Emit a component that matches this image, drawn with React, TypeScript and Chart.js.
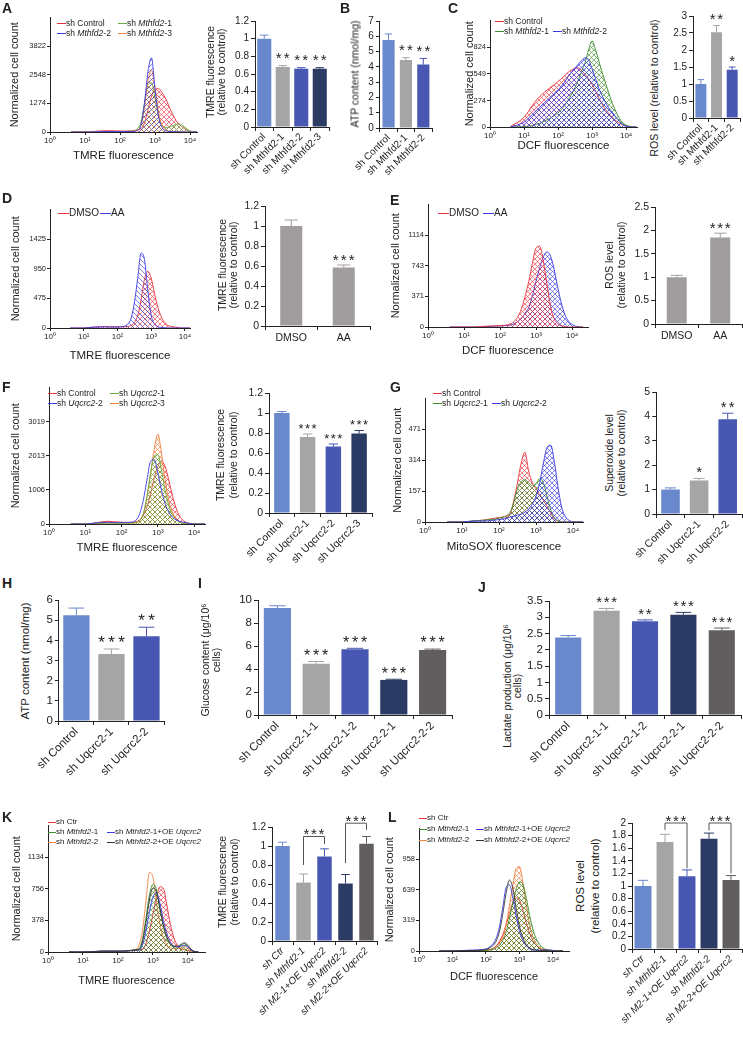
import React, { useEffect, useRef } from "react";
import { Chart, registerables } from "chart.js";

Chart.register(...registerables);

const FONT = '"Liberation Sans", Arial, Helvetica, sans-serif';
const INK = "#222222";

// ---------------- shared histogram grid (log10 of fluorescence) ----------------
const GRID = [0.6, 1.0, 1.3, 1.6, 1.9, 2.1, 2.3, 2.4, 2.5, 2.6, 2.7, 2.8, 2.9, 3.0, 3.1, 3.2, 3.3, 3.4, 3.5, 3.6, 3.7, 3.8, 3.9, 4.0, 4.1, 4.2, 4.3];
const DECADES = [0, 1, 2, 3, 4];
const DECADE_LABELS = ["10⁰", "10¹", "10²", "10³", "10⁴"];

// ---------------- Panel A ----------------
const A_HIST_YTICKS = [0, 1274, 2548, 3822];
const A_CTRL = [0, 0, 30, 60, 50, 40, 50, 60, 90, 150, 400, 1000, 1600, 1900, 1930, 1750, 1500, 1150, 800, 520, 330, 200, 90, 20, 0, 0, 0];
const A_M1 = [0, 0, 10, 20, 20, 20, 30, 50, 150, 450, 1300, 2100, 2200, 1500, 700, 300, 200, 220, 280, 330, 350, 280, 150, 50, 10, 0, 0];
const A_M2 = [0, 0, 10, 20, 20, 20, 20, 30, 80, 300, 1300, 2700, 3300, 1900, 700, 200, 60, 20, 10, 10, 5, 0, 0, 0, 0, 0, 0];
const A_M3 = [0, 0, 10, 20, 20, 20, 30, 40, 80, 300, 1100, 2300, 2750, 2000, 900, 300, 100, 40, 20, 10, 5, 0, 0, 0, 0, 0, 0];
const A_LABELS = ["sh Control", "sh Mthfd2-1", "sh Mthfd2-2", "sh Mthfd2-3"];
const A_TMRE = [1.0, 0.68, 0.66, 0.66];
const A_TMRE_ERR = [0.04, 0.015, 0.012, 0.012];
const A_STARS = ["", "**", "**", "**"];

// ---------------- Panel B ----------------
const B_LABELS = ["sh Control", "sh Mthfd2-1", "sh Mthfd2-2"];
const B_ATP = [5.75, 4.45, 4.15];
const B_ATP_ERR = [0.4, 0.15, 0.4];
const B_STARS = ["", "**", "**"];

// ---------------- Panel C ----------------
const C_HIST_YTICKS = [0, 274, 549, 824];
const C_CTRL = [5, 100, 250, 360, 440, 500, 565, 590, 605, 610, 580, 540, 495, 440, 370, 300, 235, 180, 135, 95, 65, 40, 22, 10, 4, 0, 0];
const C_M1 = [0, 5, 20, 60, 120, 180, 280, 340, 410, 490, 580, 670, 800, 890, 800, 680, 560, 450, 340, 240, 160, 90, 45, 20, 8, 0, 0];
const C_M2 = [0, 50, 150, 250, 350, 420, 520, 570, 610, 650, 690, 715, 690, 600, 500, 400, 320, 250, 190, 150, 100, 60, 25, 10, 0, 0, 0];
const C_LABELS = ["sh Control", "sh Mthfd2-1", "sh Mthfd2-2"];
const C_ROS = [1.0, 2.52, 1.42];
const C_ROS_ERR = [0.13, 0.2, 0.08];
const C_STARS = ["", "**", "*"];

// ---------------- Panel D ----------------
const D_HIST_YTICKS = [0, 475, 950, 1425];
const D_DMSO = [0, 0, 15, 20, 20, 20, 25, 40, 90, 200, 450, 780, 910, 800, 550, 330, 180, 90, 40, 25, 15, 10, 0, 0, 0, 0, 0];
const D_AA = [0, 0, 15, 20, 15, 20, 60, 150, 400, 800, 1200, 1100, 600, 200, 60, 20, 10, 5, 0, 0, 0, 0, 0, 0, 0, 0, 0];
const DE_LABELS = ["DMSO", "AA"];
const D_TMRE = [1.0, 0.585];
const D_TMRE_ERR = [0.06, 0.025];
const D_STARS = ["", "***"];

// ---------------- Panel E ----------------
const E_HIST_YTICKS = [0, 371, 743, 1114];
const E_DMSO = [0, 0, 0, 10, 15, 20, 40, 70, 130, 230, 380, 560, 780, 960, 980, 800, 520, 250, 100, 40, 15, 5, 0, 0, 0, 0, 0];
const E_AA = [0, 0, 0, 5, 10, 15, 25, 40, 70, 110, 170, 240, 380, 560, 720, 850, 910, 860, 700, 480, 290, 150, 70, 30, 10, 3, 0];
const E_ROS = [1.0, 1.85];
const E_ROS_ERR = [0.04, 0.09];
const E_STARS = ["", "***"];

// ---------------- Panel F ----------------
const F_HIST_YTICKS = [0, 1006, 2013, 3019];
const F_CTRL = [0, 0, 40, 80, 60, 50, 50, 70, 120, 250, 500, 900, 1350, 1700, 1850, 1700, 1300, 850, 480, 230, 100, 40, 15, 0, 0, 0, 0];
const F_U1 = [0, 0, 20, 30, 30, 30, 30, 40, 100, 300, 800, 1500, 2000, 2050, 1600, 1000, 550, 280, 130, 50, 20, 10, 0, 0, 0, 0, 0];
const F_U2 = [0, 0, 30, 50, 40, 40, 60, 120, 300, 700, 1300, 1850, 1900, 1500, 1000, 600, 350, 200, 120, 80, 50, 30, 15, 0, 0, 0, 0];
const F_U3 = [0, 0, 20, 30, 30, 30, 30, 40, 100, 300, 800, 1500, 2200, 2650, 2100, 1300, 700, 350, 150, 60, 20, 0, 0, 0, 0, 0, 0];
const F_LABELS = ["sh Control", "sh Uqcrc2-1", "sh Uqcrc2-2", "sh Uqcrc2-3"];
const F_TMRE = [1.0, 0.76, 0.665, 0.795];
const F_TMRE_ERR = [0.015, 0.03, 0.025, 0.03];
const F_STARS = ["", "***", "***", "***"];

// ---------------- Panel G ----------------
const G_HIST_YTICKS = [0, 157, 314, 471];
const G_CTRL = [0, 0, 5, 10, 20, 25, 40, 110, 200, 300, 355, 260, 200, 170, 140, 110, 80, 45, 15, 5, 0, 0, 0, 0, 0, 0, 0];
const G_U1 = [0, 0, 5, 10, 15, 25, 50, 100, 170, 205, 215, 200, 185, 195, 220, 200, 130, 60, 20, 5, 0, 0, 0, 0, 0, 0, 0];
const G_U2 = [0, 0, 5, 5, 10, 15, 25, 30, 35, 40, 50, 65, 90, 130, 200, 300, 380, 390, 300, 170, 70, 25, 8, 0, 0, 0, 0];
const GH_LABELS = ["sh Control", "sh Uqcrc2-1", "sh Uqcrc2-2"];
const G_SUPEROXIDE = [1.0, 1.37, 3.88];
const G_SUPEROXIDE_ERR = [0.07, 0.09, 0.25];
const G_STARS = ["", "*", "**"];

// ---------------- Panels H, I, J ----------------
const H_ATP = [5.25, 3.32, 4.2];
const H_ATP_ERR = [0.35, 0.25, 0.45];
const H_STARS = ["", "***", "**"];
const IJ_LABELS = ["sh Control", "sh Uqcrc2-1-1", "sh Uqcrc2-1-2", "sh Uqcrc2-2-1", "sh Uqcrc2-2-2"];
const I_GLUCOSE = [9.3, 4.45, 5.72, 3.05, 5.65];
const I_GLUCOSE_ERR = [0.2, 0.2, 0.08, 0.06, 0.08];
const I_STARS = ["", "***", "***", "***", "***"];
const J_LACTATE = [2.38, 3.2, 2.88, 3.08, 2.6];
const J_LACTATE_ERR = [0.06, 0.07, 0.04, 0.07, 0.07];
const J_STARS = ["", "***", "**", "***", "***"];

// ---------------- Panel K ----------------
const K_HIST_YTICKS = [0, 378, 756, 1134];
const K_CTR = [0, 0, 5, 10, 10, 10, 15, 20, 25, 30, 30, 100, 250, 450, 650, 780, 760, 560, 330, 170, 80, 40, 30, 20, 8, 0, 0];
const K_M1 = [0, 0, 5, 10, 10, 10, 15, 20, 30, 40, 150, 400, 680, 810, 750, 520, 300, 160, 90, 60, 60, 80, 100, 70, 25, 5, 0];
const K_M1OE = [0, 0, 5, 10, 10, 10, 15, 15, 20, 20, 80, 250, 480, 650, 710, 580, 380, 220, 120, 70, 60, 70, 80, 60, 20, 5, 0];
const K_M2 = [0, 0, 5, 10, 10, 10, 15, 20, 30, 80, 250, 600, 950, 900, 600, 330, 170, 90, 50, 40, 40, 50, 60, 40, 15, 3, 0];
const K_M2OE = [0, 0, 5, 10, 10, 10, 15, 20, 25, 30, 120, 350, 620, 760, 720, 520, 320, 180, 100, 70, 70, 90, 110, 80, 30, 5, 0];
const KL_LABELS = ["sh Ctr", "sh Mthfd2-1", "sh M2-1+OE Uqcrc2", "sh Mthfd2-2", "sh M2-2+OE Uqcrc2"];
const K_TMRE = [1.0, 0.615, 0.89, 0.605, 1.025];
const K_TMRE_ERR = [0.04, 0.09, 0.08, 0.095, 0.075];
const K_BRACKETS = [
  { a: 1, b: 2, y: 1.1, ya: 0.8, yb: 1.02, stars: "***" },
  { a: 3, b: 4, y: 1.24, ya: 0.82, yb: 1.17, stars: "***" },
];

// ---------------- Panel L ----------------
const L_HIST_YTICKS = [0, 319, 639, 958];
const L_CTR = [0, 0, 5, 5, 10, 15, 50, 100, 170, 270, 390, 500, 555, 530, 430, 300, 190, 110, 60, 30, 15, 10, 5, 0, 0, 0, 0];
const L_M1 = [0, 0, 5, 5, 5, 10, 30, 60, 110, 200, 340, 500, 640, 720, 700, 560, 380, 230, 130, 70, 35, 15, 10, 5, 0, 0, 0];
const L_M1OE = [0, 0, 5, 10, 15, 40, 130, 250, 450, 660, 690, 560, 370, 210, 110, 55, 25, 10, 10, 10, 10, 10, 10, 5, 0, 0, 0];
const L_M2 = [0, 0, 5, 5, 5, 10, 40, 80, 150, 280, 470, 680, 860, 880, 720, 480, 280, 150, 80, 40, 20, 10, 5, 0, 0, 0, 0];
const L_M2OE = [0, 0, 5, 5, 10, 30, 100, 200, 380, 600, 740, 660, 450, 260, 140, 70, 35, 15, 10, 5, 5, 5, 0, 0, 0, 0, 0];
const L_ROS = [1.0, 1.7, 1.155, 1.75, 1.095];
const L_ROS_ERR = [0.09, 0.12, 0.1, 0.09, 0.07];
const L_BRACKETS = [
  { a: 1, b: 2, y: 2.0, ya: 1.89, yb: 1.28, stars: "***" },
  { a: 3, b: 4, y: 2.0, ya: 1.88, yb: 1.2, stars: "***" },
];

// ---------------- colours ----------------
const LB = "#6a89cc";
const GR = "#a5a5a5";
const MB = "#4858b2";
const NV = "#2b3b63";
const DG = "#625d5e";
const DE_GRAY = "#a19d9e";
const RED = "#e8333d";
const GREEN_A = "#66ae40";
const GREEN = "#3f8e2a";
const BLUE = "#3a3ae6";
const ORANGE = "#ef8040";
const BLACK = "#333333";

// ---------------- helpers ----------------
function hatch(color: string, kind: string) {
  const s = 5;
  const c = document.createElement("canvas");
  c.width = s;
  c.height = s;
  const g = c.getContext("2d") as CanvasRenderingContext2D;
  g.strokeStyle = color;
  g.lineWidth = 0.75;
  g.globalAlpha = 0.85;
  g.beginPath();
  if (kind === "x" || kind === "/") {
    g.moveTo(0, s);
    g.lineTo(s, 0);
  }
  if (kind === "x" || kind === "\\") {
    g.moveTo(0, 0);
    g.lineTo(s, s);
  }
  g.stroke();
  return g.createPattern(c, "repeat");
}

function drawStars(ctx: any, s: string, cx: number, cy: number, size: number, gap: number) {
  if (!s) return;
  ctx.fillStyle = INK;
  ctx.font = `${size}px ${FONT}`;
  ctx.textAlign = "center";
  ctx.textBaseline = "alphabetic";
  const n = s.length;
  for (let k = 0; k < n; k++) ctx.fillText("*", cx + (k - (n - 1) / 2) * gap, cy + size * 0.58);
}

function extras(o: any) {
  return {
    id: "extras",
    afterDatasetsDraw(chart: any) {
      const ctx = chart.ctx;
      const ys = chart.scales.y;
      const bars = chart.getDatasetMeta(0).data;
      ctx.save();
      bars.forEach((bar: any, i: number) => {
        const x = bar.x;
        const half = bar.width * 0.3;
        const top = ys.getPixelForValue(o.values[i] + o.errs[i]);
        ctx.strokeStyle = o.colors[i];
        ctx.lineWidth = 1;
        ctx.beginPath();
        ctx.moveTo(x, bar.y);
        ctx.lineTo(x, top);
        ctx.moveTo(x - half, top);
        ctx.lineTo(x + half, top);
        ctx.stroke();
        drawStars(ctx, o.stars ? o.stars[i] : "", x, top - o.starOff, o.starSize, o.starGap);
      });
      (o.brackets || []).forEach((br: any) => {
        const xa = bars[br.a].x;
        const xb = bars[br.b].x;
        const yy = ys.getPixelForValue(br.y);
        ctx.strokeStyle = "#555555";
        ctx.lineWidth = 1;
        ctx.beginPath();
        ctx.moveTo(xa, ys.getPixelForValue(br.ya));
        ctx.lineTo(xa, yy);
        ctx.lineTo(xb, yy);
        ctx.lineTo(xb, ys.getPixelForValue(br.yb));
        ctx.stroke();
        drawStars(ctx, br.stars, (xa + xb) / 2, yy - 6, o.starSize, o.starGap);
      });
      ctx.restore();
    },
  };
}

function barConfig(o: any, m: any) {
  return {
    type: "bar",
    data: {
      labels: o.labels,
      datasets: [
        {
          data: o.values,
          backgroundColor: o.colors,
          borderWidth: 0,
          categoryPercentage: 1,
          barPercentage: o.barPct,
        },
      ],
    },
    options: {
      responsive: false,
      animation: false,
      events: [],
      layout: { padding: { top: m.mt, right: m.mr, left: 0, bottom: 0 } },
      plugins: { legend: { display: false }, tooltip: { enabled: false } },
      scales: {
        x: {
          grid: { offset: true, drawOnChartArea: false, drawTicks: true, tickLength: 4, color: INK, lineWidth: 1 },
          border: { display: true, color: INK, width: 1 },
          ticks: {
            autoSkip: false,
            maxRotation: o.rotate ? 45 : 0,
            minRotation: o.rotate ? 45 : 0,
            padding: o.rotate ? 0 : 2,
            color: INK,
            font: { family: FONT, size: o.labelSize, style: o.italic ? "italic" : "normal" },
          },
          afterFit: (s: any) => {
            s.height = m.mb;
          },
        },
        y: {
          min: 0,
          max: o.ymax,
          ticks: {
            stepSize: o.step,
            autoSkip: false,
            padding: 2,
            color: INK,
            font: { family: FONT, size: o.tickSize },
            callback: (v: number) => String(Math.round(v * 100) / 100),
          },
          grid: { drawOnChartArea: false, drawTicks: true, tickLength: 4, color: INK, lineWidth: 1 },
          border: { display: true, color: INK, width: 1 },
          afterFit: (s: any) => {
            s.width = m.ml;
          },
        },
      },
    },
    plugins: [extras(o)],
  };
}

function histConfig(o: any, m: any) {
  return {
    type: "line",
    data: {
      datasets: o.series.map((s: any) => ({
        data: GRID.map((x, i) => ({ x, y: s.data[i] })),
        borderColor: s.color,
        borderWidth: 0.9,
        backgroundColor: s.hatch === "none" ? "rgba(0,0,0,0)" : hatch(s.color, s.hatch),
        fill: s.hatch === "none" ? false : "origin",
        pointRadius: 0,
        cubicInterpolationMode: "monotone",
      })),
    },
    options: {
      responsive: false,
      animation: false,
      events: [],
      layout: { padding: { top: m.mt, right: m.mr, left: 0, bottom: 0 } },
      plugins: { legend: { display: false }, tooltip: { enabled: false } },
      scales: {
        x: {
          type: "linear",
          min: 0,
          max: o.xmax,
          afterBuildTicks: (s: any) => {
            s.ticks = DECADES.map((v) => ({ value: v }));
          },
          ticks: {
            autoSkip: false,
            maxRotation: 0,
            padding: 1,
            color: INK,
            font: { family: FONT, size: 8 },
            callback: (v: number) => DECADE_LABELS[DECADES.indexOf(v)],
          },
          grid: { drawOnChartArea: false, tickLength: 3, color: INK },
          border: { color: INK },
          title: {
            display: true,
            text: o.xTitle,
            color: INK,
            padding: 0,
            font: { family: FONT, size: o.xTitleSize || 11.5, lineHeight: 1.15 },
          },
          afterFit: (s: any) => {
            s.height = m.mb;
          },
        },
        y: {
          min: 0,
          max: o.ymax,
          afterBuildTicks: (s: any) => {
            s.ticks = o.yticks.map((v: number) => ({ value: v }));
          },
          ticks: { autoSkip: false, padding: 1, color: INK, font: { family: FONT, size: 7.5 }, callback: (v: number) => String(v) },
          grid: { drawOnChartArea: false, tickLength: 3, color: INK },
          border: { color: INK },
          title: {
            display: true,
            text: "Normalized cell count",
            color: INK,
            padding: 0,
            font: { family: FONT, size: 11, lineHeight: 1.15 },
          },
          afterFit: (s: any) => {
            s.width = m.ml;
          },
        },
      },
    },
  };
}

function place(area: any, m: any) {
  const left = Math.round(area.l - m.ml);
  const top = Math.round(area.t - m.mt);
  const right = Math.round(area.r + m.mr);
  const bottom = Math.round(area.b + m.mb);
  return {
    left,
    top,
    width: right - left,
    height: bottom - top,
    mm: { ml: area.l - left, mt: area.t - top, mr: right - area.r, mb: bottom - area.b },
  };
}

// ---------------- chart specs ----------------
const SPECS: any[] = [
  {
    kind: "hist",
    area: { l: 50, t: 16, r: 197, b: 132 },
    m: { ml: 41.3, mt: 4, mr: 4, mb: 29.6 },
    opts: {
      ymax: 5096, yticks: A_HIST_YTICKS, xmax: 4.2, xTitle: "TMRE fluorescence",
      series: [
        { data: A_M2, color: BLUE, hatch: "/" },
        { data: A_M3, color: ORANGE, hatch: "x" },
        { data: A_M1, color: GREEN_A, hatch: "x" },
        { data: A_CTRL, color: RED, hatch: "x" },
      ],
    },
  },
  {
    kind: "bar",
    area: { l: 255, t: 21, r: 329, b: 127 },
    m: { ml: 28, mt: 14, mr: 3, mb: 92 },
    opts: {
      labels: A_LABELS, values: A_TMRE, errs: A_TMRE_ERR, stars: A_STARS, colors: [LB, GR, MB, NV],
      ymax: 1.2, step: 0.2, tickSize: 10, labelSize: 10, starSize: 15, starGap: 8, starOff: 11, barPct: 0.76, rotate: true,
    },
  },
  {
    kind: "bar",
    area: { l: 368, t: 21, r: 432, b: 128 },
    m: { ml: 14, mt: 14, mr: 3, mb: 92 },
    opts: {
      labels: B_LABELS, values: B_ATP, errs: B_ATP_ERR, stars: B_STARS, colors: [LB, GR, MB],
      ymax: 7, step: 1, tickSize: 10, labelSize: 10, starSize: 15, starGap: 8, starOff: 11, barPct: 0.7, rotate: true,
    },
  },
  {
    kind: "hist",
    area: { l: 490, t: 19, r: 637, b: 127 },
    m: { ml: 26.3, mt: 4, mr: 4, mb: 24.6 },
    opts: {
      ymax: 1099, yticks: C_HIST_YTICKS, xmax: 4.32, xTitle: "DCF fluorescence",
      series: [
        { data: C_M2, color: BLUE, hatch: "x" },
        { data: C_M1, color: GREEN, hatch: "x" },
        { data: C_CTRL, color: RED, hatch: "x" },
      ],
    },
  },
  {
    kind: "bar",
    area: { l: 687, t: 16, r: 740, b: 118 },
    m: { ml: 22, mt: 14, mr: 3, mb: 100 },
    opts: {
      labels: C_LABELS, values: C_ROS, errs: C_ROS_ERR, stars: C_STARS, colors: [LB, GR, MB],
      ymax: 3, step: 0.5, tickSize: 10, labelSize: 10, starSize: 15, starGap: 7.5, starOff: 10, barPct: 0.7, rotate: true,
    },
  },
  {
    kind: "hist",
    area: { l: 50, t: 208, r: 190, b: 328 },
    m: { ml: 40.3, mt: 4, mr: 4, mb: 33.6 },
    opts: {
      ymax: 1900, yticks: D_HIST_YTICKS, xmax: 4.15, xTitle: "TMRE fluorescence",
      series: [
        { data: D_AA, color: BLUE, hatch: "\\" },
        { data: D_DMSO, color: RED, hatch: "x" },
      ],
    },
  },
  {
    kind: "bar",
    area: { l: 265, t: 206, r: 370, b: 326 },
    m: { ml: 28, mt: 14, mr: 3, mb: 26 },
    opts: {
      labels: DE_LABELS, values: D_TMRE, errs: D_TMRE_ERR, stars: D_STARS, colors: [DE_GRAY, DE_GRAY],
      ymax: 1.2, step: 0.2, tickSize: 10.5, labelSize: 10.5, starSize: 15, starGap: 8, starOff: 9, barPct: 0.42, rotate: false,
    },
  },
  {
    kind: "hist",
    area: { l: 428, t: 203, r: 588, b: 327 },
    m: { ml: 38.3, mt: 4, mr: 4, mb: 29.6 },
    opts: {
      ymax: 1485, yticks: E_HIST_YTICKS, xmax: 4.44, xTitle: "DCF fluorescence",
      series: [
        { data: E_DMSO, color: RED, hatch: "x" },
        { data: E_AA, color: BLUE, hatch: "x" },
      ],
    },
  },
  {
    kind: "bar",
    area: { l: 655, t: 207, r: 742, b: 324 },
    m: { ml: 28, mt: 14, mr: 1, mb: 26 },
    opts: {
      labels: DE_LABELS, values: E_ROS, errs: E_ROS_ERR, stars: E_STARS, colors: [DE_GRAY, DE_GRAY],
      ymax: 2.5, step: 0.5, tickSize: 10.5, labelSize: 10.5, starSize: 15, starGap: 7.5, starOff: 9, barPct: 0.46, rotate: false,
    },
  },
  {
    kind: "hist",
    area: { l: 49, t: 386, r: 205, b: 524 },
    m: { ml: 39.3, mt: 4, mr: 4, mb: 29.6 },
    opts: {
      ymax: 4025, yticks: F_HIST_YTICKS, xmax: 4.3, xTitle: "TMRE fluorescence",
      series: [
        { data: F_U2, color: BLUE, hatch: "none" },
        { data: F_U1, color: GREEN_A, hatch: "x" },
        { data: F_U3, color: ORANGE, hatch: "x" },
        { data: F_CTRL, color: RED, hatch: "x" },
      ],
    },
  },
  {
    kind: "bar",
    area: { l: 269, t: 393, r: 372, b: 513 },
    m: { ml: 28, mt: 14, mr: 3, mb: 66 },
    opts: {
      labels: F_LABELS, values: F_TMRE, errs: F_TMRE_ERR, stars: F_STARS, colors: [LB, GR, MB, NV],
      ymax: 1.2, step: 0.2, tickSize: 10.5, labelSize: 10.5, starSize: 13, starGap: 6.5, starOff: 9, barPct: 0.6, rotate: true,
    },
  },
  {
    kind: "hist",
    area: { l: 425, t: 397, r: 583, b: 522 },
    m: { ml: 33.3, mt: 4, mr: 4, mb: 30.6 },
    opts: {
      ymax: 628, yticks: G_HIST_YTICKS, xmax: 4.27, xTitle: "MitoSOX fluorescence",
      series: [
        { data: G_U2, color: BLUE, hatch: "x" },
        { data: G_U1, color: GREEN, hatch: "x" },
        { data: G_CTRL, color: RED, hatch: "x" },
      ],
    },
  },
  {
    kind: "bar",
    area: { l: 655, t: 392, r: 742, b: 514 },
    m: { ml: 22, mt: 14, mr: 1, mb: 66 },
    opts: {
      labels: GH_LABELS, values: G_SUPEROXIDE, errs: G_SUPEROXIDE_ERR, stars: G_STARS, colors: [LB, GR, MB],
      ymax: 5, step: 1, tickSize: 10.5, labelSize: 10.5, starSize: 15, starGap: 8, starOff: 10, barPct: 0.65, rotate: true,
    },
  },
  {
    kind: "bar",
    area: { l: 56, t: 600, r: 164, b: 721 },
    m: { ml: 20, mt: 16, mr: 3, mb: 80 },
    opts: {
      labels: GH_LABELS, values: H_ATP, errs: H_ATP_ERR, stars: H_STARS, colors: [LB, GR, MB],
      ymax: 6, step: 1, tickSize: 11.5, labelSize: 11.5, starSize: 17, starGap: 10, starOff: 11, barPct: 0.75, rotate: true,
    },
  },
  {
    kind: "bar",
    area: { l: 258, t: 600, r: 452, b: 715 },
    m: { ml: 26, mt: 16, mr: 3, mb: 86 },
    opts: {
      labels: IJ_LABELS, values: I_GLUCOSE, errs: I_GLUCOSE_ERR, stars: I_STARS, colors: [LB, GR, MB, NV, DG],
      ymax: 10, step: 2, tickSize: 11.5, labelSize: 11.5, starSize: 16, starGap: 9, starOff: 10, barPct: 0.7, rotate: true,
    },
  },
  {
    kind: "bar",
    area: { l: 549, t: 601, r: 741, b: 715 },
    m: { ml: 26, mt: 16, mr: 2, mb: 86 },
    opts: {
      labels: IJ_LABELS, values: J_LACTATE, errs: J_LACTATE_ERR, stars: J_STARS, colors: [LB, GR, MB, NV, DG],
      ymax: 3.5, step: 0.5, tickSize: 11.5, labelSize: 11.5, starSize: 15, starGap: 7.5, starOff: 10, barPct: 0.68, rotate: true,
    },
  },
  {
    kind: "hist",
    area: { l: 48, t: 824, r: 205, b: 952 },
    m: { ml: 37.3, mt: 4, mr: 4, mb: 34.6 },
    opts: {
      ymax: 1512, yticks: K_HIST_YTICKS, xmax: 4.49, xTitle: "TMRE fluorescence", xTitleSize: 11,
      series: [
        { data: K_M2OE, color: BLACK, hatch: "none" },
        { data: K_M1OE, color: BLUE, hatch: "none" },
        { data: K_M1, color: GREEN, hatch: "x" },
        { data: K_M2, color: ORANGE, hatch: "none" },
        { data: K_CTR, color: RED, hatch: "x" },
      ],
    },
  },
  {
    kind: "bar",
    area: { l: 272, t: 827, r: 377, b: 941 },
    m: { ml: 26, mt: 20, mr: 3, mb: 101 },
    opts: {
      labels: KL_LABELS, values: K_TMRE, errs: K_TMRE_ERR, stars: [], colors: [LB, GR, MB, NV, DG],
      ymax: 1.2, step: 0.2, tickSize: 10, labelSize: 10, starSize: 15, starGap: 7.5, starOff: 10, barPct: 0.69,
      rotate: true, italic: true, brackets: K_BRACKETS,
    },
  },
  {
    kind: "hist",
    area: { l: 419, t: 827, r: 569, b: 951 },
    m: { ml: 35.3, mt: 4, mr: 4, mb: 31.6 },
    opts: {
      ymax: 1278, yticks: L_HIST_YTICKS, xmax: 4.48, xTitle: "DCF fluorescence", xTitleSize: 11,
      series: [
        { data: L_M2OE, color: BLACK, hatch: "none" },
        { data: L_M1OE, color: BLUE, hatch: "none" },
        { data: L_M1, color: GREEN, hatch: "x" },
        { data: L_M2, color: ORANGE, hatch: "x" },
        { data: L_CTR, color: RED, hatch: "x" },
      ],
    },
  },
  {
    kind: "bar",
    area: { l: 632, t: 823, r: 742, b: 949 },
    m: { ml: 26, mt: 16, mr: 1, mb: 93 },
    opts: {
      labels: KL_LABELS, values: L_ROS, errs: L_ROS_ERR, stars: [], colors: [LB, GR, MB, NV, DG],
      ymax: 2, step: 0.2, tickSize: 10, labelSize: 10, starSize: 15, starGap: 7.5, starOff: 10, barPct: 0.77,
      rotate: true, italic: true, brackets: L_BRACKETS,
    },
  },
];

const LETTERS: [string, number, number][] = [
  ["A", 2, 3], ["B", 340, 3], ["C", 448, 3],
  ["D", 2, 193], ["E", 390, 195],
  ["F", 2, 382], ["G", 390, 382],
  ["H", 2, 578], ["I", 198, 578], ["J", 478, 582],
  ["K", 2, 812], ["L", 388, 812],
];

const LEGENDS: { x: number; y: number; c: string; t: string; s: number }[] = [
  { x: 57, y: 23, c: RED, t: "sh Control", s: 8.5 },
  { x: 118, y: 23, c: GREEN_A, t: "sh |Mthfd2|-1", s: 8.5 },
  { x: 57, y: 33, c: BLUE, t: "sh |Mthfd2|-2", s: 8.5 },
  { x: 118, y: 33, c: ORANGE, t: "sh |Mthfd2|-3", s: 8.5 },
  { x: 495, y: 21, c: RED, t: "sh Control", s: 8.5 },
  { x: 495, y: 31, c: GREEN, t: "sh |Mthfd2|-1", s: 8.5 },
  { x: 553, y: 31, c: BLUE, t: "sh |Mthfd2|-2", s: 8.5 },
  { x: 58, y: 213, c: RED, t: "DMSO", s: 10 },
  { x: 100, y: 213, c: BLUE, t: "AA", s: 10 },
  { x: 438, y: 213, c: RED, t: "DMSO", s: 10 },
  { x: 483, y: 213, c: BLUE, t: "AA", s: 10 },
  { x: 48, y: 393, c: RED, t: "sh Control", s: 8.5 },
  { x: 110, y: 393, c: GREEN_A, t: "sh |Uqcrc2|-1", s: 8.5 },
  { x: 48, y: 403, c: BLUE, t: "sh |Uqcrc2|-2", s: 8.5 },
  { x: 110, y: 403, c: ORANGE, t: "sh |Uqcrc2|-3", s: 8.5 },
  { x: 433, y: 393, c: RED, t: "sh Control", s: 8.5 },
  { x: 433, y: 403, c: GREEN, t: "sh |Uqcrc2|-1", s: 8.5 },
  { x: 492, y: 403, c: BLUE, t: "sh |Uqcrc2|-2", s: 8.5 },
  { x: 48, y: 822, c: RED, t: "sh Ctr", s: 8 },
  { x: 48, y: 832, c: GREEN, t: "sh |Mthfd2|-1", s: 8 },
  { x: 107, y: 832, c: BLUE, t: "sh |Mthfd2|-1+OE |Uqcrc2|", s: 8 },
  { x: 48, y: 842, c: ORANGE, t: "sh |Mthfd2|-2", s: 8 },
  { x: 107, y: 842, c: BLACK, t: "sh |Mthfd2|-2+OE |Uqcrc2|", s: 8 },
  { x: 419, y: 818, c: RED, t: "sh Ctr", s: 8 },
  { x: 419, y: 829, c: GREEN, t: "sh |Mthfd2|-1", s: 8 },
  { x: 476, y: 829, c: BLUE, t: "sh |Mthfd2|-1+OE |Uqcrc2|", s: 8 },
  { x: 419, y: 840, c: ORANGE, t: "sh |Mthfd2|-2", s: 8 },
  { x: 476, y: 840, c: BLACK, t: "sh |Mthfd2|-2+OE |Uqcrc2|", s: 8 },
];

const BAR_TITLES: { cx: number; cy: number; s: number; lh: number; lines: string[] }[] = [
  { cx: 215.5, cy: 72, s: 10.5, lh: 11, lines: ["TMRE fluorescence", "(relative to control)"] },
  { cx: 355, cy: 74, s: 10.5, lh: 11, lines: ["ATP content (nmol/mg)"] },
  { cx: 654, cy: 88, s: 10.5, lh: 11, lines: ["ROS level (relative to control)"] },
  { cx: 227.5, cy: 265, s: 10.5, lh: 11, lines: ["TMRE fluorescence", "(relative to control)"] },
  { cx: 615, cy: 265, s: 10.5, lh: 12, lines: ["ROS level", "(relative to control)"] },
  { cx: 226.5, cy: 455, s: 10.5, lh: 13, lines: ["TMRE fluorescence", "(relative to control)"] },
  { cx: 615, cy: 453, s: 10.5, lh: 12, lines: ["Superoxide level", "(relative to control)"] },
  { cx: 25, cy: 661, s: 11.5, lh: 12, lines: ["ATP content (nmol/mg)"] },
  { cx: 210.5, cy: 660, s: 10.5, lh: 11, lines: ["Glucose content (μg/10⁶", "cells)"] },
  { cx: 511.5, cy: 686, s: 10.5, lh: 10, lines: ["Lactate production (μg/10⁶", "cells)"] },
  { cx: 228, cy: 882, s: 10.5, lh: 12, lines: ["TMRE fluorescence", "(relative to control)"] },
  { cx: 587.5, cy: 886, s: 11.5, lh: 15, lines: ["ROS level", "(relative to control)"] },
];

function ChartCanvas({ spec }: { spec: any }) {
  const ref = useRef<HTMLCanvasElement>(null);
  const p = place(spec.area, spec.m);
  useEffect(() => {
    const cfg: any = spec.kind === "bar" ? barConfig(spec.opts, p.mm) : histConfig(spec.opts, p.mm);
    const chart = new Chart(ref.current as HTMLCanvasElement, cfg);
    return () => chart.destroy();
  }, []);
  return (
    <canvas
      ref={ref}
      width={p.width}
      height={p.height}
      style={{ position: "absolute", left: p.left, top: p.top, width: p.width, height: p.height }}
    />
  );
}

function LegendItem({ x, y, c, t, s }: { x: number; y: number; c: string; t: string; s: number }) {
  const parts = t.split("|");
  const h = Math.round(s * 1.2);
  const top = Math.round(y - h / 2);
  const sw = Math.round(s * 1.05);
  return (
    <div style={{ position: "absolute", left: x, top, height: h, whiteSpace: "pre", color: INK, fontSize: s, lineHeight: `${h}px` }}>
      <div style={{ position: "absolute", left: 0, top: Math.round(h / 2), width: sw, height: 1, background: c }} />
      <div style={{ position: "absolute", left: sw, top: 0 }}>
        {parts.map((p, i) => (i % 2 ? <i key={i}>{p}</i> : <span key={i}>{p}</span>))}
      </div>
    </div>
  );
}

export default function App() {
  return (
    <div
      style={{
        position: "absolute",
        left: 0,
        top: 0,
        width: 743,
        height: 1042,
        overflow: "hidden",
        background: "#ffffff",
        fontFamily: FONT,
        color: INK,
      }}
    >
      {SPECS.map((s, i) => (
        <ChartCanvas key={i} spec={s} />
      ))}
      {LETTERS.map(([l, x, y]) => (
        <div key={l} style={{ position: "absolute", left: x, top: y - 2, fontSize: 14, lineHeight: "14px", fontWeight: "bold" }}>
          {l}
        </div>
      ))}
      {LEGENDS.map((lg, i) => (
        <LegendItem key={i} {...lg} />
      ))}
      {BAR_TITLES.map((bt, i) => (
        <div
          key={i}
          style={{
            position: "absolute",
            left: bt.cx,
            top: bt.cy,
            transform: "translate(-50%, -50%) rotate(-90deg)",
            whiteSpace: "nowrap",
            textAlign: "center",
            fontSize: bt.s,
            lineHeight: `${bt.lh}px`,
          }}
        >
          {bt.lines.map((ln, k) => (
            <div key={k}>{ln}</div>
          ))}
        </div>
      ))}
    </div>
  );
}
